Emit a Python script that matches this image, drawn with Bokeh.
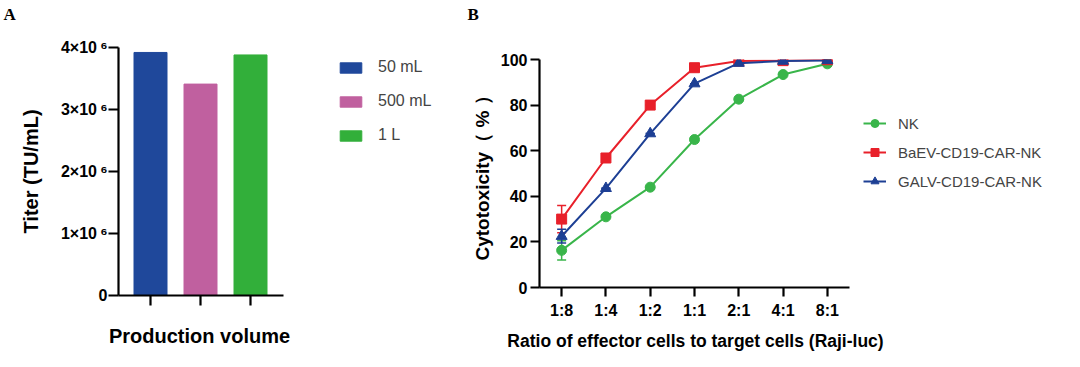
from bokeh.plotting import figure
from bokeh.models import (ColumnDataSource, FixedTicker, Range1d, FactorRange, Legend,
                          LegendItem, Whisker, TeeHead, Label)
from bokeh.layouts import row, column
from bokeh.embed import file_html
from bokeh.resources import INLINE

# ---------------- data ----------------
volumes = ["50 mL", "500 mL", "1 L"]
titers = [3.92e6, 3.41e6, 3.88e6]
bar_colors = ["#1F489B", "#C0609F", "#32AF3A"]
titer_ticks = [0, 1e6, 2e6, 3e6, 4e6]
titer_tick_labels = ["0", "1×10\u2009⁶", "2×10\u2009⁶", "3×10\u2009⁶", "4×10\u2009⁶"]
xlabel_a = "Production volume"
ylabel_a = "Titer (TU/mL)"

ratios = ["1:8", "1:4", "1:2", "1:1", "2:1", "4:1", "8:1"]
nk = [16.3, 31.0, 44.0, 64.9, 82.6, 93.4, 98.1]
baev = [30.0, 56.8, 80.0, 96.4, 99.3, 99.5, 99.9]
galv = [22.5, 43.5, 67.5, 89.4, 98.4, 99.3, 99.6]
nk_err = [4.2, 0, 0, 0, 0, 0, 0]
baev_err = [6.0, 0, 0, 0, 0, 0, 0]
galv_err = [3.0, 0, 0, 0, 0, 0, 0]
series_names = ["NK", "BaEV-CD19-CAR-NK", "GALV-CD19-CAR-NK"]
series_colors = ["#39B54A", "#E8202A", "#1D3F94"]
series_markers = ["circle", "square", "triangle"]
cyto_ticks = [0, 20, 40, 60, 80, 100]
xlabel_b = "Ratio of effector cells to target cells (Raji-luc)"
ylabel_b = "Cytotoxicity（ % ）"
panel_letters = ["A", "B"]

FONT = "Liberation Sans"
TOP_H, ROW_H, BOT_H = 38, 283, 46


def blank(width, height):
    f = figure(width=width, height=height, output_backend="svg", toolbar_location=None,
               x_axis_location=None, y_axis_location=None,
               x_range=Range1d(0, 1), y_range=Range1d(0, 1), min_border=0,
               outline_line_color=None)
    f.grid.visible = False
    return f


def style_axes(p, tick_size="16px"):
    for ax in (p.xaxis[0], p.yaxis[0]):
        ax.axis_line_width = 2.2
        ax.major_tick_line_width = 2.2
        ax.major_tick_in = 0
        ax.major_tick_out = 9
        ax.minor_tick_line_color = None
        ax.major_label_text_font = FONT
        ax.major_label_text_font_style = "bold"
        ax.major_label_text_font_size = tick_size
        ax.major_label_text_color = "black"
        ax.axis_label_text_font = FONT
        ax.axis_label_text_font_style = "bold"
        ax.axis_label_text_color = "black"
    p.xgrid.grid_line_color = None
    p.ygrid.grid_line_color = None
    p.outline_line_color = None


# ---------------- top strip: panel letters ----------------
top = blank(1080, TOP_H)
for letter, lx in zip(panel_letters, [3, 467]):
    top.add_layout(Label(x=lx, y=TOP_H - 4, x_units="screen", y_units="screen", text=letter,
                         text_font="Liberation Serif", text_font_style="bold",
                         text_font_size="17px", text_baseline="top", text_color="black"))

# ---------------- panel A ----------------
pa = figure(width=300, height=ROW_H, output_backend="svg", toolbar_location=None,
            x_range=Range1d(0.36, 3.66), y_range=Range1d(0, 4e6),
            min_border_left=118, min_border_right=17, min_border_top=9, min_border_bottom=26)
xs = list(range(1, len(volumes) + 1))
src_a = ColumnDataSource(dict(x=xs, top=titers, color=bar_colors, name=volumes))
pa.vbar(x="x", top="top", width=0.66, color="color", source=src_a)
style_axes(pa)
pa.xaxis.ticker = FixedTicker(ticks=xs)
pa.xaxis.major_label_overrides = {x: " " for x in xs}
pa.xaxis.major_label_text_font_size = "1px"
pa.xaxis.major_tick_out = 10
pa.yaxis.ticker = FixedTicker(ticks=titer_ticks)
pa.yaxis.major_label_overrides = {t: l for t, l in zip(titer_ticks, titer_tick_labels)}
pa.yaxis.major_tick_out = 10
pa.yaxis.major_label_standoff = 1
pa.yaxis.axis_label = ylabel_a
pa.yaxis.axis_label_text_font_size = "20px"
pa.yaxis.axis_label_standoff = 16

# legend A (own canvas so it is not clipped)
la = blank(148, ROW_H)
bars_leg = la.vbar(x="x", top="top", width=0.66, color="color", source=src_a, visible=False)
leg_a = Legend(items=[LegendItem(label=v, renderers=[bars_leg], index=i)
                      for i, v in enumerate(volumes)],
               location=(37, 177), orientation="vertical",
               glyph_width=27, glyph_height=13, label_height=18, spacing=16,
               label_standoff=14, padding=0, margin=0, border_line_color=None,
               background_fill_alpha=0, label_text_font=FONT, label_text_font_size="16px")
la.add_layout(leg_a, "center")

# ---------------- panel B ----------------
pb = figure(width=410, height=ROW_H, output_backend="svg", toolbar_location=None,
            x_range=FactorRange(factors=ratios), y_range=Range1d(0, 100),
            min_border_left=91, min_border_right=9, min_border_top=21, min_border_bottom=33)
style_axes(pb)
pb.yaxis.ticker = FixedTicker(ticks=cyto_ticks)
pb.yaxis.major_label_standoff = 3
pb.yaxis.axis_label = ylabel_b
pb.yaxis.axis_label_text_font_size = "19px"
pb.yaxis.axis_label_standoff = 5
pb.xaxis.major_label_standoff = 5

lb = blank(222, ROW_H)
items_b = []
for name, vals, errs, col, mk, sz in zip(series_names, [nk, baev, galv],
                                         [nk_err, baev_err, galv_err], series_colors,
                                         series_markers, [10, 10, 11]):
    src = ColumnDataSource(dict(x=ratios, y=vals,
                                lo=[v - e for v, e in zip(vals, errs)],
                                hi=[v + e for v, e in zip(vals, errs)]))
    w = Whisker(base="x", lower="lo", upper="hi", source=src, line_color=col, line_width=1.5,
                upper_head=TeeHead(size=9, line_color=col, line_width=1.5),
                lower_head=TeeHead(size=9, line_color=col, line_width=1.5))
    pb.add_layout(w)
    pb.line("x", "y", source=src, line_color=col, line_width=2)
    pb.scatter("x", "y", source=src, marker=mk, size=sz, fill_color=col, line_color=col)
    ln = lb.line("x", "y", source=src, line_color=col, line_width=2, visible=False)
    sc = lb.scatter("x", "y", source=src, marker=mk, size=sz, fill_color=col,
                    line_color=col, visible=False)
    items_b.append(LegendItem(label=name, renderers=[ln, sc]))

leg_b = Legend(items=items_b, location=(5, 130), orientation="vertical",
               glyph_width=23, glyph_height=20, label_height=20, spacing=9,
               label_standoff=12, padding=0, margin=0, border_line_color=None,
               background_fill_alpha=0, label_text_font=FONT, label_text_font_size="15px")
lb.add_layout(leg_b, "center")

# ---------------- bottom strip: x axis titles ----------------
bot = blank(1080, BOT_H)
for txt, cx, cy, fs in [(xlabel_a, 199, 32, "20px"), (xlabel_b, 695, 27, "17.5px")]:
    bot.add_layout(Label(x=cx, y=cy, x_units="screen", y_units="screen", text=txt,
                         text_font=FONT, text_font_style="bold", text_font_size=fs,
                         text_align="center", text_baseline="middle", text_color="black"))

middle = row(column(pa), la, column(pb), lb, spacing=0)
layout = column(top, middle, bot, spacing=0)
open("out.html", "w").write(file_html(layout, INLINE))
